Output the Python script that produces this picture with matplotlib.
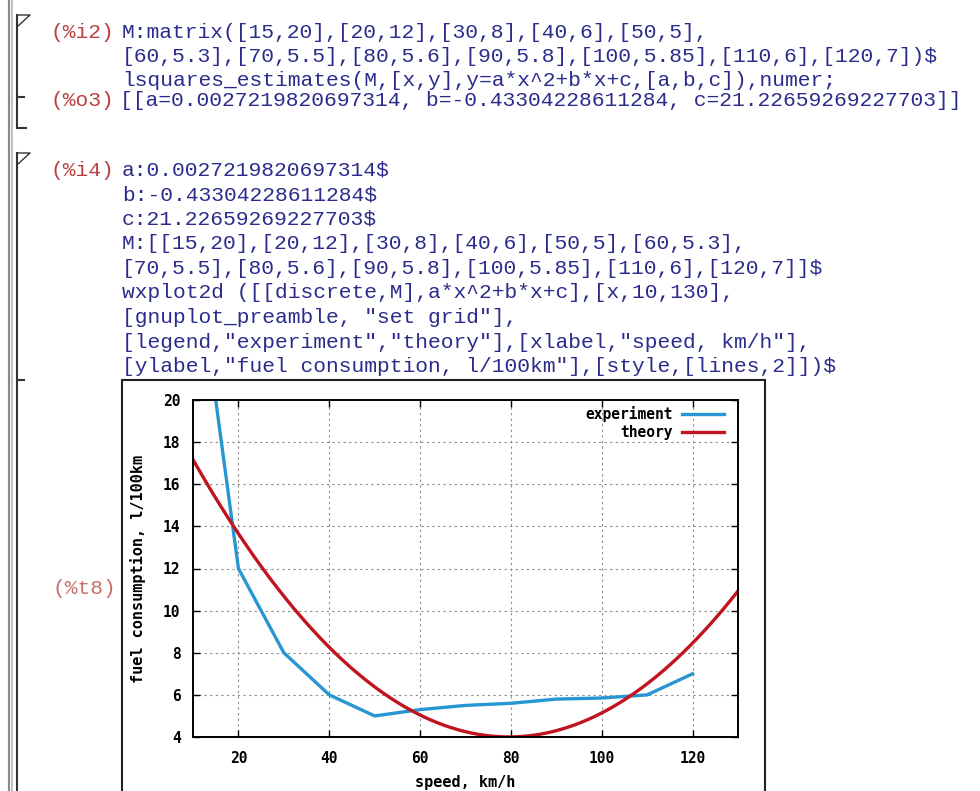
import numpy as np
import matplotlib
matplotlib.use("Agg")
import matplotlib.pyplot as plt
from matplotlib.lines import Line2D
from matplotlib.patches import Rectangle

# data from the maxima session
speed = [15, 20, 30, 40, 50, 60, 70, 80, 90, 100, 110, 120]
fuel = [20, 12, 8, 6, 5, 5.3, 5.5, 5.6, 5.8, 5.85, 6, 7]
coef_a = 0.0027219820697314
coef_b = -0.43304228611284
coef_c = 21.22659269227703
x_range = [10, 130]
x_ticks = [20, 40, 60, 80, 100, 120]
y_ticks = [4, 6, 8, 10, 12, 14, 16, 18, 20]
legend_labels = ["experiment", "theory"]

cell1_lines = [
    "M:matrix([15,20],[20,12],[30,8],[40,6],[50,5],",
    "[60,5.3],[70,5.5],[80,5.6],[90,5.8],[100,5.85],[110,6],[120,7])$",
    "lsquares_estimates(M,[x,y],y=a*x^2+b*x+c,[a,b,c]),numer;",
]
cell1_out = "[[a=0.0027219820697314, b=-0.43304228611284, c=21.22659269227703]]"
cell2_lines = [
    "a:0.0027219820697314$",
    "b:-0.43304228611284$",
    "c:21.22659269227703$",
    "M:[[15,20],[20,12],[30,8],[40,6],[50,5],[60,5.3],",
    "[70,5.5],[80,5.6],[90,5.8],[100,5.85],[110,6],[120,7]]$",
    "wxplot2d ([[discrete,M],a*x^2+b*x+c],[x,10,130],",
    "[gnuplot_preamble, \"set grid\"],",
    "[legend,\"experiment\",\"theory\"],[xlabel,\"speed, km/h\"],",
    "[ylabel,\"fuel consumption, l/100km\"],[style,[lines,2]])$",
]

W, H = 980, 791


def fx(x):
    return x / W


def fy(y):
    return 1 - y / H


fig = plt.figure(figsize=(W / 100, H / 100), dpi=100)
fig.patch.set_facecolor("white")

code_font = dict(family="Liberation Mono", fontsize=15.3, color="#2b2b8c", va="center")
label_font = dict(family="Liberation Mono", fontsize=15.3, color="#b84040", va="center")


def seg(xs, ys, color="#333333", lw=1.5):
    fig.add_artist(Line2D([fx(v) for v in xs], [fy(v) for v in ys],
                          transform=fig.transFigure, color=color, lw=lw))


# left margin lines
seg([8.5, 8.5], [0, H], color="#8a8a8a", lw=1.6)
seg([12, 12], [0, H], color="#c0c0c0", lw=1.4)

# cell 1 bracket
seg([17, 17], [15, 128])
seg([17, 30, 18], [15, 15, 26], lw=1.0)
seg([17, 26], [128, 128])
seg([17, 24], [97, 97])
# cell 2 bracket
seg([17, 17], [153, H])
seg([17, 30, 18], [153, 153, 164], lw=1.0)
seg([17, 24], [380, 380])

# cell 1 text
fig.text(fx(50), fy(32), "(%i2)", **label_font)
for i, s in enumerate(cell1_lines):
    fig.text(fx(122), fy(32 + i * 24), s, **code_font)
fig.text(fx(50), fy(101), "(%o3)", **label_font)
fig.text(fx(120), fy(101), cell1_out, **code_font)

# cell 2 text
fig.text(fx(50), fy(170), "(%i4)", **label_font)
for i, s in enumerate(cell2_lines):
    fig.text(fx(122), fy(170 + i * 24.6), s, **code_font)
fig.text(fx(52), fy(588), "(%t8)", family="Liberation Mono", fontsize=15.3,
         color="#c87070", va="center")

# plot frame
fig.add_artist(Rectangle((fx(122), fy(H + 5)), fx(765) - fx(122), fy(380) - fy(H + 5),
                         transform=fig.transFigure, facecolor="white",
                         edgecolor="#222222", lw=1.5, zorder=0))

ax = fig.add_axes([fx(193), fy(737), fx(738) - fx(193), fy(400) - fy(737)])

xs = np.linspace(x_range[0], x_range[1], 400)
theory = coef_a * xs ** 2 + coef_b * xs + coef_c

ax.plot(speed, fuel, color="#2796d2", lw=2.4, label=legend_labels[0])
ax.plot(xs, theory, color="#c0141e", lw=2.4, label=legend_labels[1])

ax.set_xlim(x_range)
ax.set_ylim(4, 20)
ax.set_xticks(x_ticks)
ax.set_yticks(y_ticks)
ax.grid(True, color="#8c8c8c", linestyle=(0, (2, 3)), lw=0.8)

tick_font = dict(family="DejaVu Sans Mono", weight="bold", size=10.5)
ax.set_xticklabels([str(t) for t in x_ticks], **tick_font)
ax.set_yticklabels([str(t) for t in y_ticks], **tick_font)
ax.tick_params(direction="in", top=True, right=True, length=5, width=1,
               colors="black")
ax.tick_params(axis="x", pad=10)
ax.tick_params(axis="y", pad=9)
for sp in ax.spines.values():
    sp.set_linewidth(1.4)

ax.set_xlabel("speed, km/h", family="DejaVu Sans Mono", weight="bold", fontsize=11)
ax.set_ylabel("fuel consumption, l/100km", family="DejaVu Sans Mono", weight="bold",
              fontsize=11)
ax.xaxis.set_label_coords(0.5, (737 - 782) / 337)
ax.xaxis.label.set_va("center")
ax.yaxis.set_label_coords((138 - 193) / 545, 0.5)
ax.yaxis.label.set_va("center")

ax.legend(loc="upper right", frameon=False, markerfirst=False,
          prop=dict(family="DejaVu Sans Mono", weight="bold", size=10.5),
          handlelength=2.9, handletextpad=0.6, labelspacing=0.2,
          borderaxespad=0.0, bbox_to_anchor=(0.985, 1.0))

fig.savefig("out.png", dpi=100, facecolor="white")
